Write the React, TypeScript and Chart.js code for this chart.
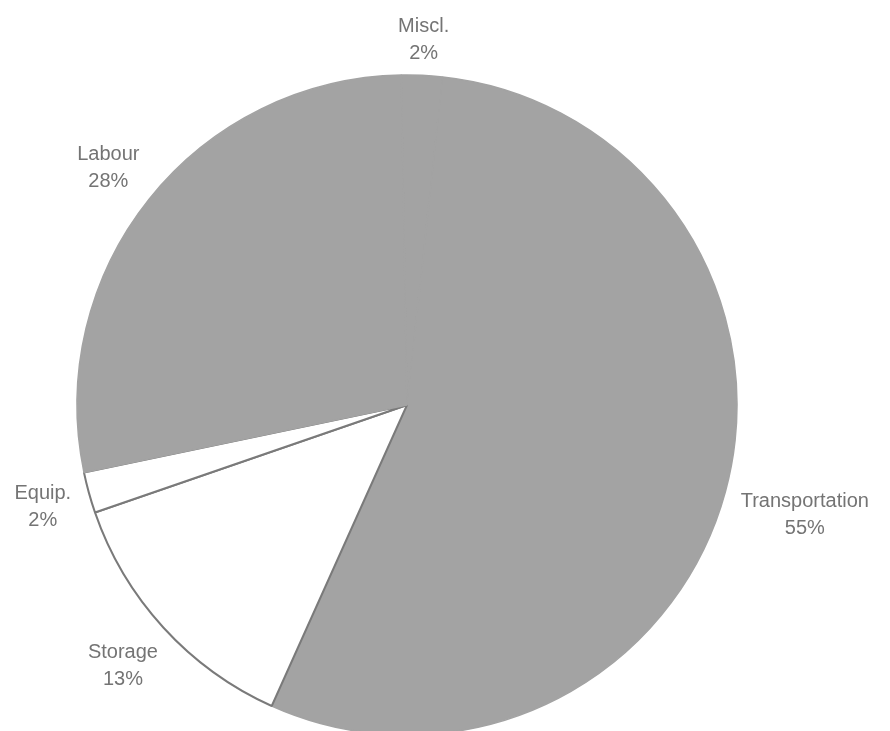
import { useEffect, useRef } from 'react';
import { Chart, registerables } from 'chart.js';

Chart.register(...registerables);

const categories = ['Miscl.', 'Transportation', 'Storage', 'Equip.', 'Labour'];
const shares = [2, 55, 13, 2, 28];

const GRAY = '#a3a3a3';
const EDGE = '#7a7a7a';
const sliceColors = [GRAY, GRAY, '#ffffff', '#ffffff', GRAY];
const sliceBorderColors = [GRAY, GRAY, EDGE, EDGE, GRAY];
const sliceBorderWidths = [1.5, 1.5, 2, 2, 1.5];

const labelPlugin = {
  id: 'outsideLabels',
  afterDatasetsDraw(chart: any) {
    const ctx = chart.ctx as CanvasRenderingContext2D;
    const meta = chart.getDatasetMeta(0);
    const values = chart.data.datasets[0].data as number[];
    const total = values.reduce((a, b) => a + b, 0);
    ctx.save();
    ctx.font = '20px "Liberation Sans", Arial, sans-serif';
    ctx.fillStyle = '#747474';
    ctx.textAlign = 'center';
    ctx.textBaseline = 'alphabetic';
    meta.data.forEach((arc: any, i: number) => {
      const { x, y, startAngle, endAngle, outerRadius } = arc.getProps(
        ['x', 'y', 'startAngle', 'endAngle', 'outerRadius'],
        true
      );
      const mid = (startAngle + endAngle) / 2;
      const ux = Math.cos(mid);
      const uy = Math.sin(mid);
      const lines = [chart.data.labels[i], Math.round((values[i] / total) * 100) + '%'];
      const w = Math.max(...lines.map((l: string) => ctx.measureText(l).width)) / 2;
      const h = 20.5;
      const d = outerRadius + 15 + w * Math.abs(ux) + h * Math.abs(uy);
      const cx = x + ux * d;
      const cy = y + uy * d;
      ctx.fillText(lines[0], cx, cy - 6.5);
      ctx.fillText(lines[1], cx, cy + 20.5);
    });
    ctx.restore();
  },
};

export default function App() {
  const ref = useRef<HTMLCanvasElement | null>(null);

  useEffect(() => {
    if (!ref.current) return;
    const chart = new Chart(ref.current, {
      type: 'pie',
      data: {
        labels: categories,
        datasets: [
          {
            data: shares,
            backgroundColor: sliceColors,
            borderColor: sliceBorderColors,
            borderWidth: sliceBorderWidths,
            clip: false,
          } as any,
        ],
      },
      options: {
        animation: false,
        responsive: true,
        maintainAspectRatio: false,
        rotation: -1,
        radius: 330,
        layout: { padding: { left: 60, right: 136, top: 79, bottom: 0 } },
        plugins: {
          legend: { display: false },
          tooltip: { enabled: false },
        },
      } as any,
      plugins: [labelPlugin],
    });
    return () => chart.destroy();
  }, []);

  return (
    <div style={{ position: 'fixed', left: 0, top: 0, width: 890, height: 731, background: '#ffffff' }}>
      <canvas ref={ref} />
    </div>
  );
}
